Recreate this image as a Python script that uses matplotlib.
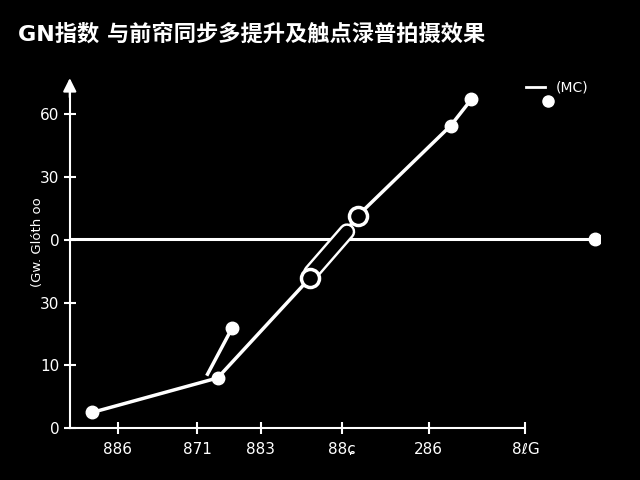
import matplotlib
matplotlib.use("Agg")
import matplotlib.pyplot as plt
from matplotlib.lines import Line2D

plt.rcParams['font.family'] = ['DejaVu Sans', 'Noto Sans CJK SC']

title = "GN指数 与前帘同步多提升及触点渌普拍摄效果"
ylabel = "(Gw. Glóth oo"

# main series (x in chart units, y in chart units)
main_x = [4.2, 27.9, 45.3, 54.3, 71.9, 75.8]
main_y = [2.5, 8.0, 23.9, 33.8, 48.2, 52.4]
filled = [True, True, False, False, True, True]

# short side branch
branch_x = [26.0, 30.6]
branch_y = [8.6, 15.9]

# pill segment between the two open markers
pill_x = [45.6, 52.3]
pill_y = [24.8, 31.3]

ref_y = 30.1
ref_end = 99.6

xticks = [9.1, 24.0, 36.0, 51.3, 67.7, 86.0]
xlabels = ["886", "871", "883", "88ɕ", "286", "8ℓG"]
yticks = [0, 10, 20, 30, 40, 50]
ylabels = ["0", "10", "30", "0", "30", "60"]

fg = "white"
fig = plt.figure(figsize=(6.4, 4.8), dpi=100, facecolor="black")
ax = fig.add_axes([0.109, 0.108, 0.828, 0.735], facecolor="black")

ax.plot(main_x, main_y, color=fg, lw=2.5, zorder=3)
ax.plot(branch_x, branch_y, color=fg, lw=2.5, zorder=3)
ax.plot(branch_x[-1], branch_y[-1], 'o', color=fg, ms=9, zorder=4)

# pill outline
ax.plot(pill_x, pill_y, color=fg, lw=12, solid_capstyle='round', zorder=5)
ax.plot(pill_x, pill_y, color="black", lw=8.5, solid_capstyle='round', zorder=6)

for x, y, f in zip(main_x, main_y, filled):
    if f:
        ax.plot(x, y, 'o', color=fg, ms=9, zorder=7)
    else:
        ax.plot(x, y, 'o', mfc="black", mec=fg, mew=2.5, ms=13, zorder=7)

ax.plot([0, ref_end], [ref_y, ref_y], color=fg, lw=2.2, zorder=2)
ax.plot(ref_end - 0.4, ref_y, 'o', color=fg, ms=9, zorder=3)
ax.plot(ref_end + 0.3, ref_y, '>', color=fg, ms=6, zorder=3)

ax.set_xlim(0, 100)
ax.set_ylim(0, 56.2)
ax.set_xticks(xticks)
ax.set_xticklabels(xlabels)
ax.set_yticks(yticks)
ax.set_yticklabels(ylabels)
ax.tick_params(colors=fg, labelsize=11, direction='inout', length=8, width=1.5)
ax.tick_params(axis='x', pad=6)

for s in ['top', 'right']:
    ax.spines[s].set_visible(False)
for s in ['left', 'bottom']:
    ax.spines[s].set_color(fg)
    ax.spines[s].set_linewidth(1.5)
ax.spines['bottom'].set_bounds(0, xticks[-1])
ax.spines['left'].set_bounds(0, 53.5)
ax.annotate("", xy=(0, 1.0), xytext=(0, 0.93), xycoords='axes fraction',
            arrowprops=dict(arrowstyle='-|>', color=fg, lw=1.5, mutation_scale=20),
            annotation_clip=False)

ax.set_ylabel(ylabel, color=fg, fontsize=9.5)
ax.yaxis.set_label_coords(-0.049, 0.527)

fig.text(0.028, 0.93, title, color=fg, fontsize=16, fontweight='bold',
         ha='left', va='center')

# legend entry
fig.add_artist(Line2D([0.822, 0.852], [0.818, 0.818], color=fg, lw=2))
fig.add_artist(Line2D([0.857], [0.789], marker='o', color=fg, ms=8))
fig.text(0.868, 0.818, "(MC)", color=fg, fontsize=10, ha='left', va='center')

fig.savefig("out.png", dpi=100, facecolor="black")
